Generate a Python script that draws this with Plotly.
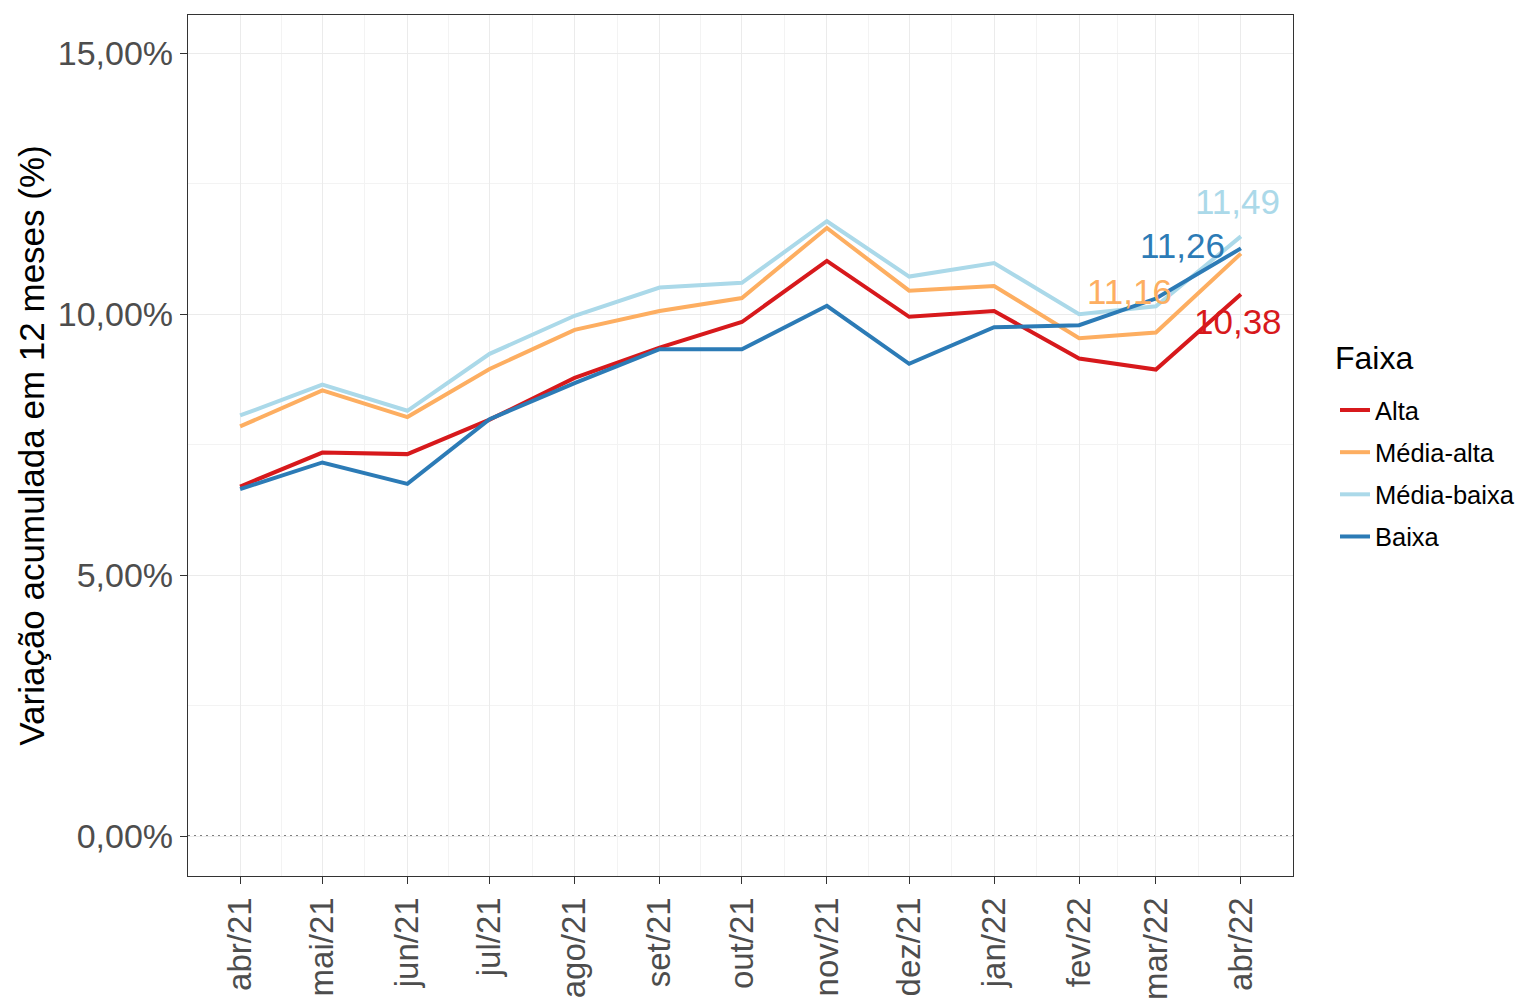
import plotly.graph_objects as go
import pandas as pd

dates = ["2021-04-01", "2021-05-01", "2021-06-01", "2021-07-01", "2021-08-01", "2021-09-01",
         "2021-10-01", "2021-11-01", "2021-12-01", "2022-01-01", "2022-02-01", "2022-03-01",
         "2022-04-01"]
month_labels = ["abr/21", "mai/21", "jun/21", "jul/21", "ago/21", "set/21", "out/21",
                "nov/21", "dez/21", "jan/22", "fev/22", "mar/22", "abr/22"]

alta = [6.70, 7.35, 7.32, 7.98, 8.78, 9.36, 9.85, 11.02, 9.95, 10.06, 9.15, 8.94, 10.38]
media_alta = [7.85, 8.54, 8.03, 8.95, 9.70, 10.06, 10.31, 11.65, 10.45, 10.54, 9.54, 9.65, 11.16]
media_baixa = [8.06, 8.65, 8.15, 9.24, 9.97, 10.51, 10.60, 11.78, 10.72, 10.98, 10.00, 10.15, 11.49]
baixa = [6.65, 7.16, 6.75, 7.99, 8.68, 9.33, 9.33, 10.16, 9.05, 9.75, 9.79, 10.30, 11.26]

series_names = ["Alta", "Média-alta", "Média-baixa", "Baixa"]
series_values = [alta, media_alta, media_baixa, baixa]
colors = ["#D7191C", "#FDAE61", "#ABD9E9", "#2C7BB6"]

y_ticks = [0, 5, 10, 15]
y_ticktext = ["0,00%", "5,00%", "10,00%", "15,00%"]
y_minor = [2.5, 7.5, 12.5]

# label offsets (pixels) for end labels
label_offsets = {"Alta": (-3, 27), "Média-alta": (-111, 38), "Média-baixa": (-3, -35), "Baixa": (-58, -3)}

dt = pd.to_datetime(dates)
mid = [(dt[i] + (dt[i + 1] - dt[i]) / 2).strftime("%Y-%m-%d %H:%M") for i in range(len(dt) - 1)]
x_lo = (dt[0] - pd.Timedelta(days=19)).strftime("%Y-%m-%d")
x_hi = (dt[-1] + pd.Timedelta(days=19)).strftime("%Y-%m-%d")

FONT = "Liberation Sans, Arial, sans-serif"
fig = go.Figure()
for name, vals, col in zip(series_names, series_values, colors):
    fig.add_trace(go.Scatter(x=dates, y=vals, mode="lines", name=name, legendgroup=name,
                             line=dict(color=col, width=4)))

for name, vals, col in zip(series_names, series_values, colors):
    ax, ay = label_offsets[name]
    fig.add_annotation(x=dates[-1], y=vals[-1], text=f"{vals[-1]:.2f}".replace(".", ","),
                       showarrow=True, arrowcolor="rgba(0,0,0,0)", arrowwidth=0.1, arrowhead=0,
                       ax=ax, ay=ay, font=dict(size=35, color=col, family=FONT))

# legend title
fig.add_annotation(xref="paper", yref="paper", x=1.036, y=0.602, xanchor="left", yanchor="middle",
                   text="Faixa", showarrow=False, font=dict(size=32, color="black", family=FONT))

fig.add_shape(type="line", xref="paper", x0=0, x1=1, y0=0, y1=0,
              line=dict(color="black", width=1.5, dash="2px,4px"), layer="below")

fig.update_layout(
    width=1533, height=998,
    margin=dict(l=180, r=248, t=6, b=126),
    paper_bgcolor="white", plot_bgcolor="white",
    font=dict(family=FONT, color="#4D4D4D"),
    showlegend=True,
    legend=dict(x=1.038, y=0.568, xanchor="left", yanchor="top",
                font=dict(size=25.5, color="black"), bgcolor="rgba(0,0,0,0)",
                tracegroupgap=6),
)
fig.update_xaxes(
    type="date", range=[x_lo, x_hi],
    tickmode="array", tickvals=dates, ticktext=month_labels, tickangle=-90,
    tickfont=dict(size=33, color="#4D4D4D"),
    showgrid=True, gridcolor="#EBEBEB", gridwidth=1,
    minor=dict(tickmode="array", tickvals=mid, showgrid=True, gridcolor="#F3F3F3", gridwidth=1, ticklen=0),
    ticks="outside", ticklen=7, tickcolor="#333333", tickwidth=1,
    showline=True, mirror=True, linecolor="#333333", linewidth=1.3, zeroline=False,
)
fig.update_yaxes(
    range=[-0.76, 15.73],
    tickmode="array", tickvals=y_ticks, ticktext=y_ticktext,
    tickfont=dict(size=34, color="#4D4D4D"),
    showgrid=True, gridcolor="#EBEBEB", gridwidth=1,
    minor=dict(tickmode="array", tickvals=y_minor, showgrid=True, gridcolor="#F3F3F3", gridwidth=1, ticklen=0),
    ticks="outside", ticklen=7, tickcolor="#333333", tickwidth=1,
    showline=True, mirror=True, linecolor="#333333", linewidth=1.3, zeroline=False,
    title=dict(text="Variação acumulada em 12 meses (%)", font=dict(size=35, color="black"), standoff=2),
)
fig.write_html("out.html")
